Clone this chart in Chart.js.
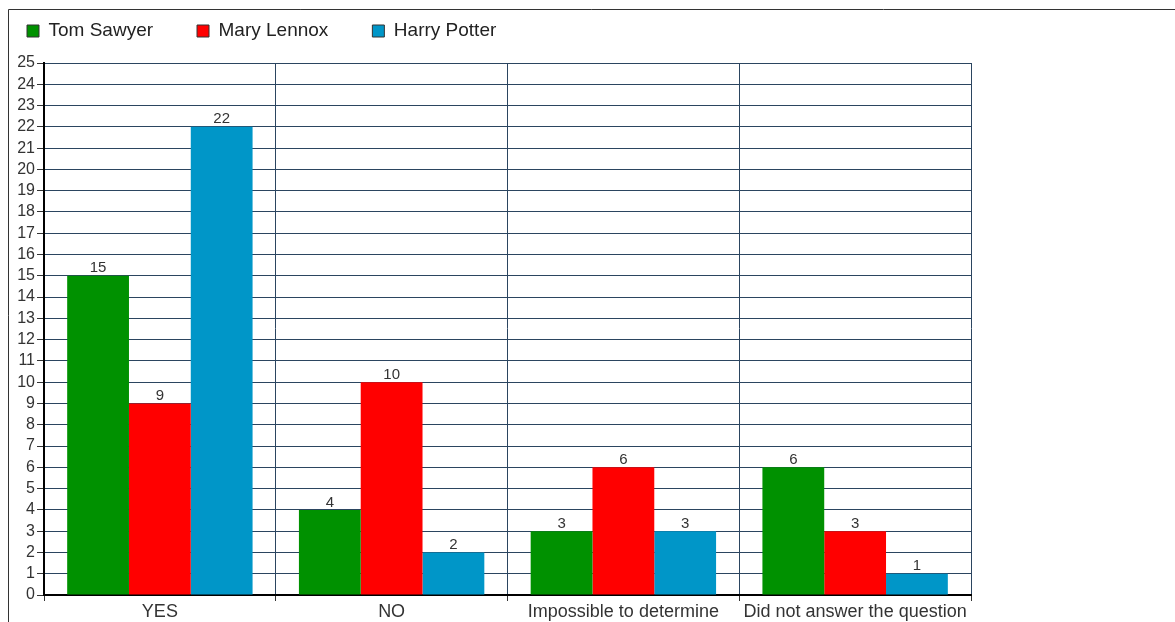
<!DOCTYPE html>
<html>
<head>
<meta charset="utf-8">
<style>
  html, body { margin: 0; padding: 0; background: #fff; }
  #wrap { position: absolute; left: 0; top: 0; width: 1175px; height: 622px; }
</style>
<script src="https://cdn.jsdelivr.net/npm/chart.js@4/dist/chart.umd.min.js"></script>
</head>
<body>
<div id="wrap"><canvas id="c" width="1175" height="622"></canvas></div>
<script>
// ---- data ----
const categories = ['YES', 'NO', 'Impossible to determine', 'Did not answer the question'];
const seriesNames = ['Tom Sawyer', 'Mary Lennox', 'Harry Potter'];
const tomSawyer = [15, 4, 3, 6];
const maryLennox = [9, 10, 6, 3];
const harryPotter = [22, 2, 3, 1];
const yTickMin = 0;
const yTickMax = 25;
const yTickStep = 1;

const colors = ['#009100', '#ff0000', '#0096c8'];
const gridColor = '#2b4560';
const FONT = "'Liberation Sans', Arial, sans-serif";

const framePlugin = {
  id: 'frame',
  beforeDraw(chart) {
    const ctx = chart.ctx;
    ctx.save();
    ctx.strokeStyle = '#333';
    ctx.lineWidth = 1;
    ctx.beginPath();
    ctx.moveTo(8.5, 622);
    ctx.lineTo(8.5, 9.5);
    ctx.lineTo(1175, 9.5);
    ctx.stroke();
    ctx.restore();
  }
};

const legendPlace = {
  id: 'legendPlace',
  beforeLayout(chart) {
    const lg = chart.legend;
    if (lg && !lg._wrapped) {
      const f = lg.fit;
      lg.fit = function () { f.call(this); this.height = 63; };
      lg._wrapped = true;
    }
  },
  afterLayout(chart) {
    const lg = chart.legend;
    if (lg) {
      lg.left = 27 - 44;
      lg.top = 21.5 - 44;
    }
  }
};

const valueLabels = {
  id: 'valueLabels',
  afterDatasetsDraw(chart) {
    const ctx = chart.ctx;
    ctx.save();
    ctx.font = '15px ' + FONT;
    ctx.fillStyle = '#333';
    ctx.textAlign = 'center';
    ctx.textBaseline = 'bottom';
    chart.data.datasets.forEach((ds, i) => {
      const meta = chart.getDatasetMeta(i);
      meta.data.forEach((el, j) => {
        ctx.fillText(String(ds.data[j]), el.x, el.y);
      });
    });
    ctx.restore();
  }
};

new Chart(document.getElementById('c'), {
  type: 'bar',
  data: {
    labels: categories,
    datasets: [
      { label: seriesNames[0], data: tomSawyer, backgroundColor: colors[0] },
      { label: seriesNames[1], data: maryLennox, backgroundColor: colors[1] },
      { label: seriesNames[2], data: harryPotter, backgroundColor: colors[2] }
    ]
  },
  options: {
    responsive: false,
    animation: false,
    devicePixelRatio: 1,
    categoryPercentage: 0.8,
    barPercentage: 1.0,
    layout: { padding: { left: 0, right: 204, top: 0, bottom: 0 } },
    plugins: {
      tooltip: { enabled: false },
      legend: {
        position: 'top',
        align: 'start',
        labels: {
          font: { family: FONT, size: 19 },
          color: '#222',
          boxWidth: 12,
          boxHeight: 12,
          padding: 44,
          generateLabels(chart) {
            const items = Chart.defaults.plugins.legend.labels.generateLabels(chart);
            items.forEach(it => { it.strokeStyle = '#333'; it.lineWidth = 1; });
            return items;
          }
        }
      }
    },
    scales: {
      x: {
        grid: { offset: true, color: gridColor, tickColor: '#333', tickLength: 6, lineWidth: 1 },
        border: { display: true, color: '#000', width: 2 },
        ticks: { font: { family: FONT, size: 18 }, color: '#333', padding: 0, maxRotation: 0, autoSkip: false },
        afterFit(scale) { scale.height = 27; }
      },
      y: {
        min: yTickMin,
        max: yTickMax,
        grid: { color: gridColor, tickColor: '#333', tickLength: 7, lineWidth: 1 },
        border: { display: true, color: '#000', width: 2 },
        ticks: { stepSize: yTickStep, autoSkip: false, font: { family: FONT, size: 16 }, color: '#333', padding: 2 },
        afterFit(scale) { scale.width = 44; }
      }
    }
  },
  plugins: [framePlugin, legendPlace, valueLabels]
});
</script>
</body>
</html>
